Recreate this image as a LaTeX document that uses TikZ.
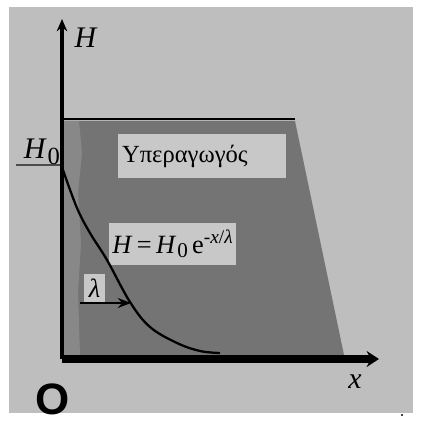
\documentclass[tikz,border=0pt]{standalone}
\usepackage{fontspec}
\setmainfont{Liberation Serif}
\newfontfamily\sansbold{Liberation Sans}
\usetikzlibrary{arrows.meta,positioning}
\definecolor{bggray}{RGB}{190,190,190}
\definecolor{scgray}{RGB}{116,116,116}
\definecolor{stripgray}{RGB}{136,136,136}
\definecolor{boxgray}{RGB}{200,200,200}

\begin{document}
\begin{tikzpicture}[>=Stealth,x=1.000cm,y=1.000cm,
 lab/.style={font=\fontsize{17}{19}\selectfont,inner sep=1pt},
 greybox/.style={fill=boxgray,inner sep=0pt,font=\fontsize{14}{16}\selectfont},
 axis/.style={draw=black,line width=2.2pt}]
\useasboundingbox (0,0) rectangle (8.50,8.46);
\fill[bggray] (0.18,0.20) rectangle (8.26,8.32);
% superconductor
\fill[scgray] (1.24,1.36) -- (1.24,6.04) -- (5.90,6.04) -- (6.88,1.36) -- cycle;
\fill[stripgray] (1.24,1.36) -- (1.24,6.04) -- (1.58,6.04) -- (1.64,5.40)
  -- (1.56,4.60) -- (1.62,3.60) -- (1.56,2.60) -- (1.60,1.36) -- cycle;
\coordinate (O) at (1.24,1.28);
\coordinate (ytop) at (1.24,8.08);
\coordinate (xend) at (7.58,1.28);
\coordinate (topl) at (1.24,6.08);
\coordinate (topr) at (5.90,6.08);
\coordinate (h0l) at (0.32,5.16);
\coordinate (h0r) at (1.24,5.16);
\draw[line width=1pt] (topl) -- (topr);
\draw[line width=0.6pt,black!70] (h0l) -- (h0r);
% axes
\draw[axis,-{Stealth[length=7pt,width=6pt]}] (O) -- (ytop);
\draw[draw=black,line width=4pt,-{Stealth[length=7pt,width=9pt]}] (O) -- (xend);
\node[lab] (hy) at (1.72,7.70) {\textit{H}};
\node[lab] (xl) at (7.10,0.82) {\textit{x}};
\node[lab] (h0) at (0.84,5.42) {\textit{H}\kern0.5pt\raisebox{-0.4ex}{\fontsize{14}{16}\selectfont 0}};
\node[font=\sansbold\bfseries\fontsize{25}{27}\selectfont,inner sep=0pt] (orig) at (1.06,0.48) {O};
\fill (8.04,0.16) circle (0.6pt);
% boxes
\node[greybox,minimum width=3.36cm,minimum height=0.88cm,text width=3.20cm,inner xsep=0.08cm,align=left]
  (sc) at (4.04,5.34) {Υπεραγωγός};
\node[greybox,minimum width=2.54cm,minimum height=0.84cm,font=\fontsize{15}{17}\selectfont]
  (formula) at (3.45,3.58) {\textit{H}\kern2.5pt=\kern2.5pt\textit{H}\kern0.5pt\raisebox{-0.4ex}{\fontsize{12}{14}\selectfont 0}\kern2.5pt e\raisebox{0.8ex}{\fontsize{11}{13}\selectfont -\textit{x}/\textit{λ}}};
\node[greybox,minimum width=0.42cm,minimum height=0.56cm,font=\fontsize{15}{17}\selectfont] (lam) at (1.89,2.70) {\textit{λ}};
% penetration depth
\coordinate (lamstart) at (1.60,2.40);
\coordinate (lamend) at (2.62,2.40);
\draw[line width=1pt,->] (lamstart) -- (lamend);
% decay curve
\draw[line width=1.3pt] plot[smooth,tension=0.6] coordinates
  {(1.26,5.06) (1.54,4.30) (1.80,3.80) (2.14,3.26) (2.60,2.42) (3.00,1.92) (3.54,1.60) (4.00,1.44) (4.40,1.40)};
\end{tikzpicture}
\end{document}
